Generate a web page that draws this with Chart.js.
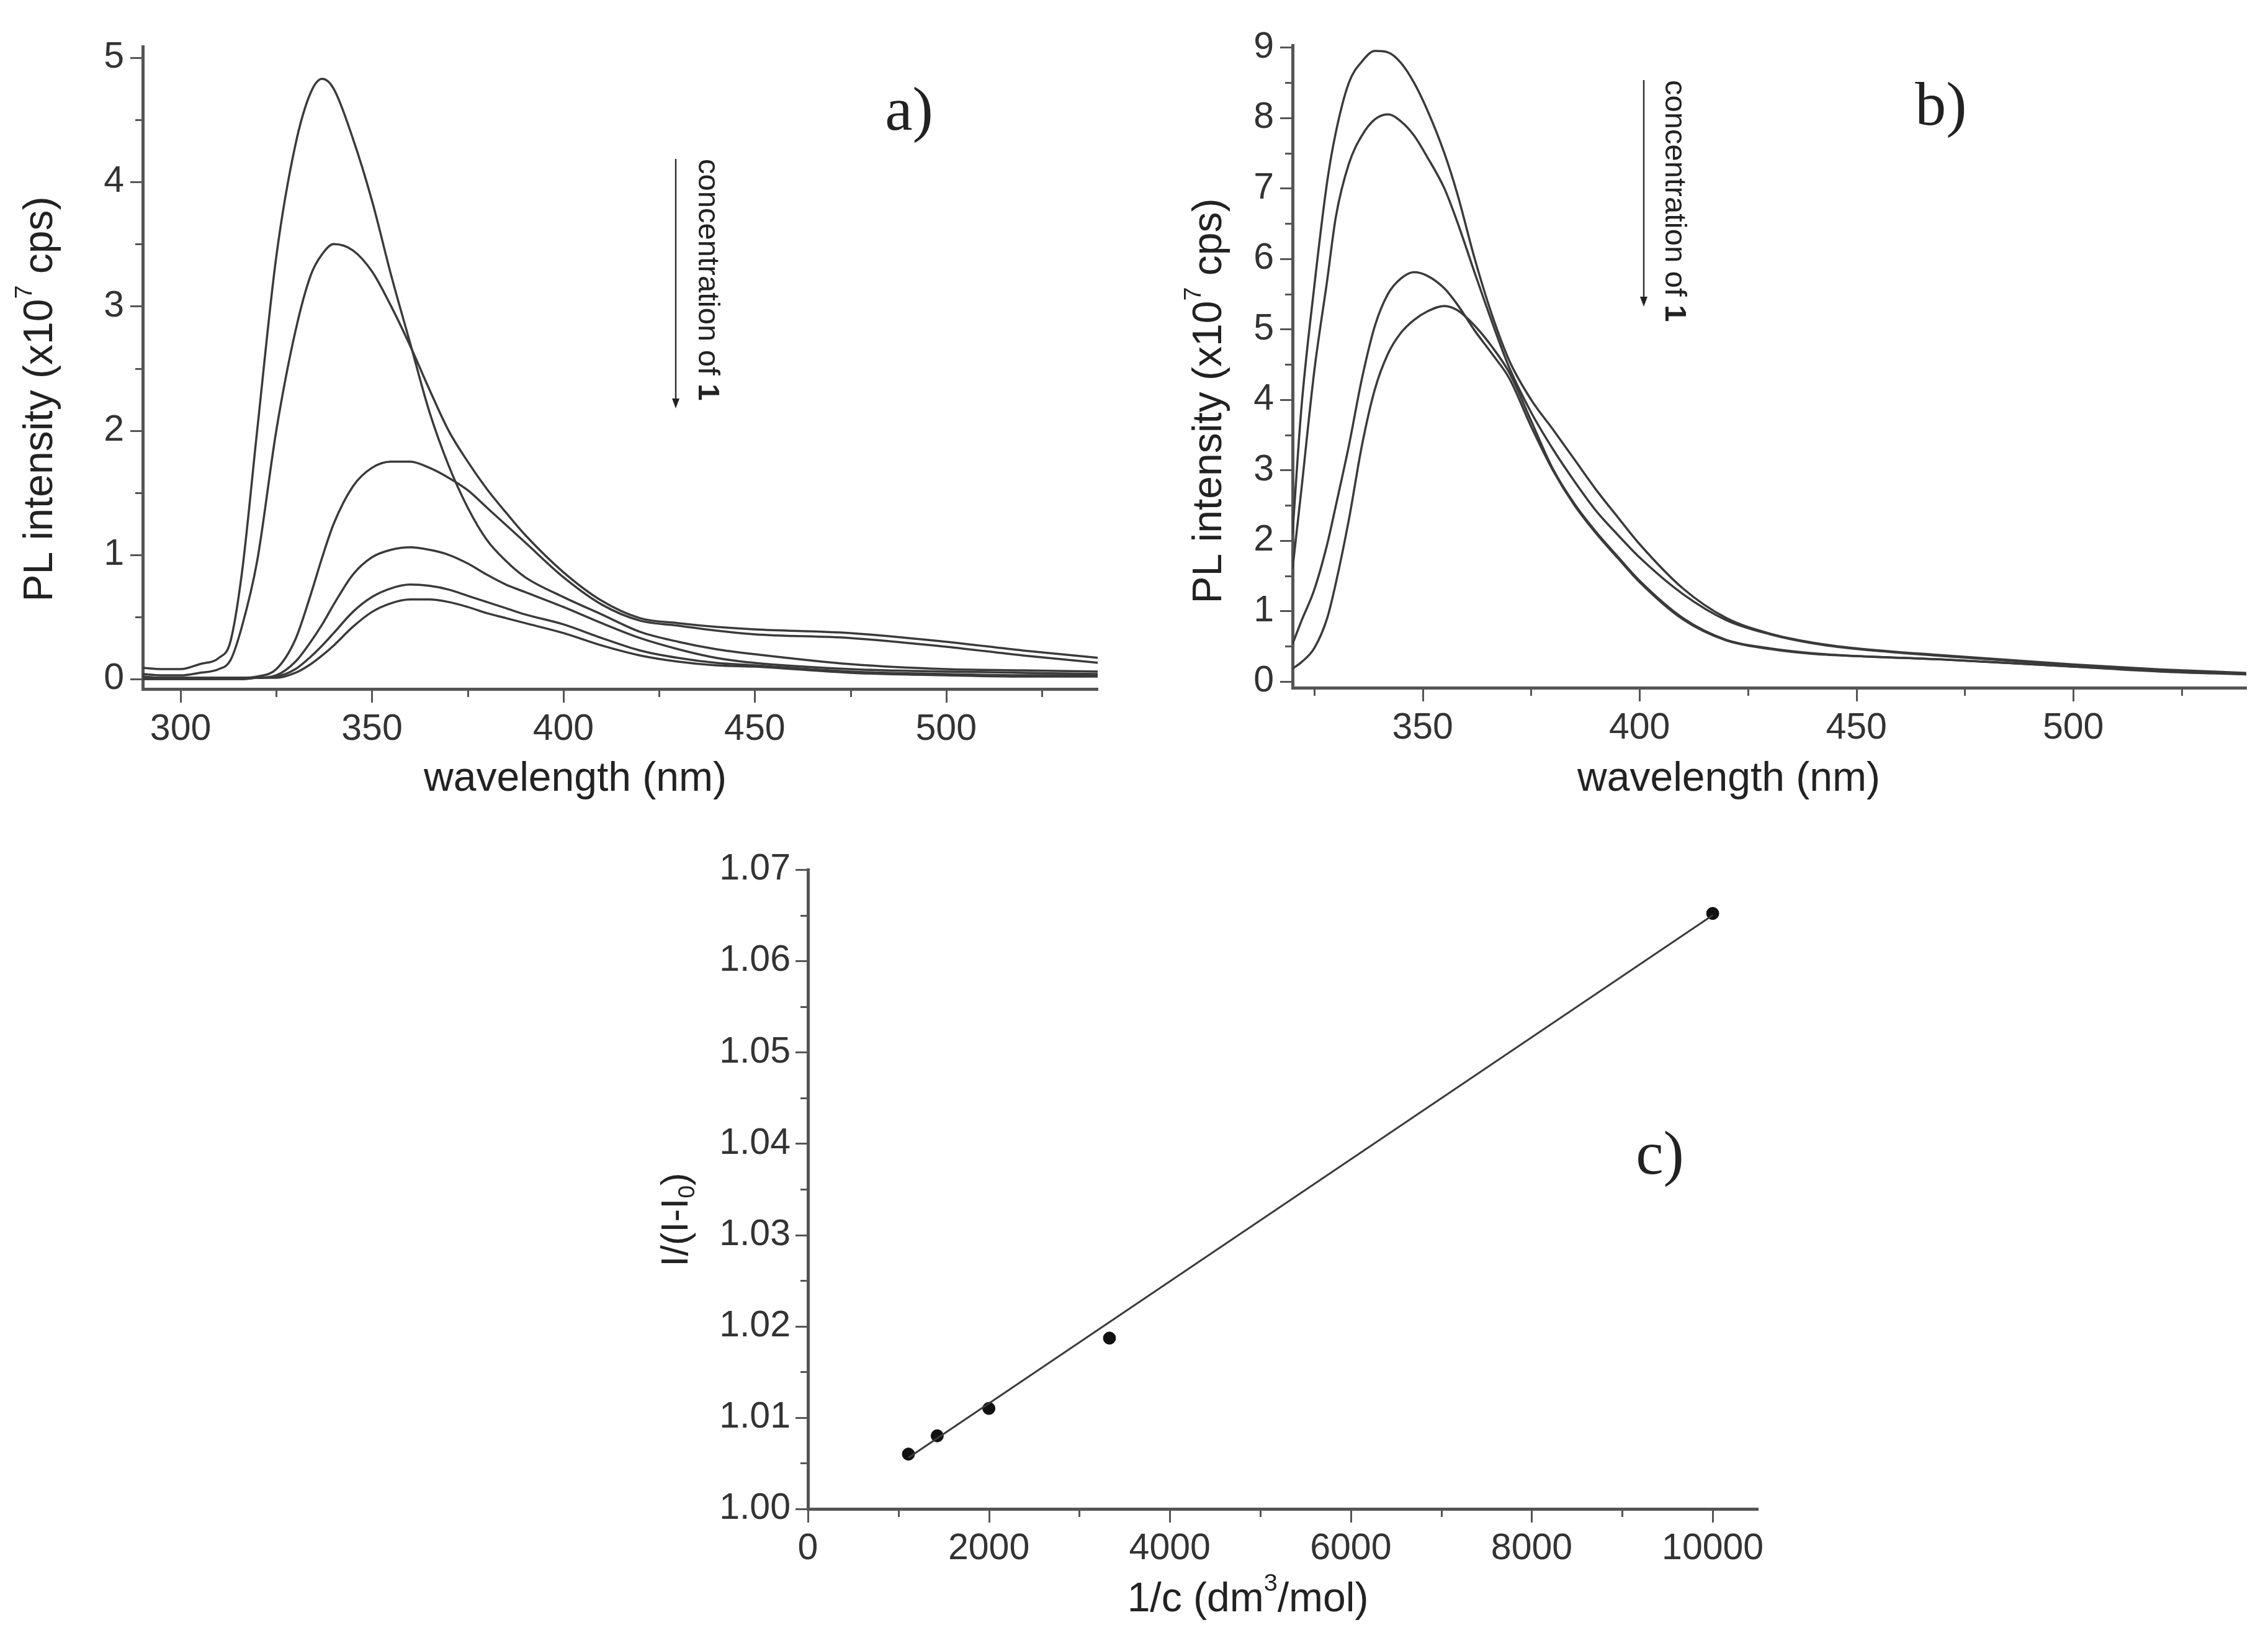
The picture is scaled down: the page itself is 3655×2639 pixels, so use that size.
<!DOCTYPE html>
<html>
<head>
<meta charset="utf-8">
<title>PL quenching</title>
<script src="https://cdn.jsdelivr.net/npm/chart.js@4.4.1/dist/chart.umd.min.js"></script>
<style>
  html, body { margin: 0; padding: 0; background: #fff; }
  body { width: 3655px; height: 2639px; position: relative; overflow: hidden; }
  canvas { position: absolute; }
</style>
</head>
<body>
<canvas id="panelA" width="1830" height="1300" style="left:0;top:0"></canvas>
<canvas id="panelB" width="1825" height="1300" style="left:1830px;top:0"></canvas>
<canvas id="panelC" width="1900" height="1339" style="left:1000px;top:1300px"></canvas>
<script>
// panel a) spectra, six concentrations
const wavelengthA = [290, 295, 300, 305, 310, 313, 316, 320, 325, 330, 334, 337, 340, 345, 350, 355, 360, 365, 370, 375, 380, 385, 390, 400, 410, 420, 430, 440, 450, 475, 500, 520, 540];
const specA1 = [0.09, 0.08, 0.08, 0.12, 0.17, 0.3, 0.85, 2.0, 3.4, 4.3, 4.72, 4.83, 4.75, 4.35, 3.85, 3.25, 2.7, 2.15, 1.72, 1.38, 1.12, 0.95, 0.82, 0.66, 0.52, 0.38, 0.3, 0.24, 0.2, 0.12, 0.08, 0.07, 0.06];
const specA2 = [0.04, 0.03, 0.03, 0.05, 0.08, 0.15, 0.42, 0.95, 2.0, 2.8, 3.25, 3.42, 3.5, 3.45, 3.28, 3.0, 2.68, 2.33, 2.0, 1.75, 1.53, 1.34, 1.16, 0.86, 0.63, 0.49, 0.45, 0.42, 0.4, 0.37, 0.3, 0.23, 0.17];
const specA3 = [0.02, 0.01, 0.01, 0.01, 0.01, 0.01, 0.01, 0.02, 0.08, 0.32, 0.68, 0.98, 1.25, 1.55, 1.7, 1.75, 1.75, 1.7, 1.62, 1.52, 1.38, 1.24, 1.1, 0.82, 0.6, 0.47, 0.43, 0.39, 0.36, 0.33, 0.26, 0.19, 0.13];
const specA4 = [0.01, 0.01, 0.01, 0.01, 0.01, 0.01, 0.01, 0.01, 0.03, 0.14, 0.3, 0.44, 0.6, 0.84, 0.98, 1.04, 1.06, 1.04, 1.0, 0.93, 0.84, 0.76, 0.7, 0.58, 0.45, 0.33, 0.24, 0.17, 0.13, 0.08, 0.06, 0.05, 0.04];
const specA5 = [0.0, 0.0, 0.0, 0.0, 0.0, 0.0, 0.0, 0.01, 0.02, 0.08, 0.18, 0.27, 0.37, 0.54, 0.66, 0.73, 0.76, 0.75, 0.72, 0.67, 0.62, 0.57, 0.52, 0.44, 0.33, 0.23, 0.17, 0.13, 0.11, 0.06, 0.04, 0.03, 0.03];
const specA6 = [0.0, 0.0, 0.0, 0.0, 0.0, 0.0, 0.0, 0.01, 0.01, 0.05, 0.12, 0.19, 0.27, 0.42, 0.54, 0.61, 0.64, 0.64, 0.62, 0.58, 0.53, 0.49, 0.45, 0.37, 0.27, 0.19, 0.14, 0.11, 0.1, 0.05, 0.03, 0.02, 0.02];
const xTicksA = [300, 325, 350, 375, 400, 425, 450, 475, 500, 525];
const yTicksA = [0, 0.5, 1, 1.5, 2, 2.5, 3, 3.5, 4, 4.5, 5];

// panel b) spectra, four concentrations
const wavelengthB = [320, 322, 325, 328, 330, 333, 336, 339, 342, 345, 348, 351, 355, 358, 362, 366, 370, 375, 380, 385, 390, 395, 400, 410, 420, 430, 440, 450, 470, 500, 520, 540];
const specB1 = [2.1, 3.85, 5.6, 7.1, 7.8, 8.5, 8.8, 8.95, 8.93, 8.78, 8.5, 8.12, 7.5, 6.92, 6.0, 5.2, 4.55, 4.0, 3.58, 3.15, 2.72, 2.33, 1.95, 1.32, 0.9, 0.68, 0.55, 0.47, 0.37, 0.24, 0.17, 0.12];
const specB2 = [1.6, 2.7, 4.4, 5.7, 6.6, 7.35, 7.75, 7.98, 8.05, 7.95, 7.75, 7.45, 7.0, 6.52, 5.8, 5.1, 4.45, 3.82, 3.3, 2.84, 2.42, 2.08, 1.76, 1.24, 0.87, 0.67, 0.54, 0.46, 0.36, 0.23, 0.16, 0.11];
const specB3 = [0.53, 0.85, 1.3, 1.95, 2.5, 3.35, 4.3, 5.05, 5.5, 5.72, 5.81, 5.76, 5.58, 5.35, 4.98, 4.65, 4.3, 3.62, 3.0, 2.5, 2.1, 1.75, 1.41, 0.88, 0.58, 0.46, 0.39, 0.36, 0.31, 0.21, 0.15, 0.1];
const specB4 = [0.18, 0.27, 0.47, 0.9, 1.4, 2.3, 3.35, 4.15, 4.65, 4.95, 5.13, 5.25, 5.33, 5.27, 5.05, 4.75, 4.38, 3.7, 3.02, 2.52, 2.12, 1.77, 1.43, 0.9, 0.59, 0.47, 0.4, 0.36, 0.31, 0.21, 0.14, 0.1];
const xTicksB = [325, 350, 375, 400, 425, 450, 475, 500, 525];
const yTicksB = [0, 0.5, 1, 1.5, 2, 2.5, 3, 3.5, 4, 4.5, 5, 5.5, 6, 6.5, 7, 7.5, 8, 8.5, 9];

// panel c) I/(I-I0) against 1/c
const inverseConc = [1111, 1429, 2000, 3333, 10000];
const intensityRatio = [1.006, 1.008, 1.011, 1.0187, 1.0652];
const fitX = [1111, 10000];
const fitY = [1.0056, 1.0650];
const xTicksC = [0, 1000, 2000, 3000, 4000, 5000, 6000, 7000, 8000, 9000, 10000];
const yTicksC = [1.0, 1.005, 1.01, 1.015, 1.02, 1.025, 1.03, 1.035, 1.04, 1.045, 1.05, 1.055, 1.06, 1.065, 1.07];

const LINE = '#3a3a3a';
const AXIS = '#555';
const SANS = '"Liberation Sans", Arial, sans-serif';
const SERIF = '"Liberation Serif", "Times New Roman", serif';

// per-panel extra drawing (titles, notes); kept out of chart options
const panelExtras = {};

function pairs(xs, ys) {
  return xs.map((x, i) => ({ x: x, y: ys[i] }));
}

function curve(xs, ys) {
  return {
    data: pairs(xs, ys),
    borderColor: LINE,
    borderWidth: 3.5,
    pointRadius: 0,
    cubicInterpolationMode: 'monotone',
    fill: false
  };
}

function isMajor(v, major) {
  const r = v / major;
  return Math.abs(r - Math.round(r)) < 1e-6;
}

// text with super/subscript parts, centred on (cx, cy)
function richText(ctx, parts, cx, cy, size, rot) {
  const fontOf = (p) => {
    const s = (p.sup || p.sub) ? size * 0.6 : size;
    return (p.bold ? 'bold ' : '') + s + 'px ' + (p.serif ? SERIF : SANS);
  };
  ctx.save();
  ctx.translate(cx, cy);
  ctx.rotate(rot || 0);
  ctx.fillStyle = '#222';
  ctx.textBaseline = 'middle';
  ctx.textAlign = 'left';
  let total = 0;
  const widths = parts.map(p => {
    ctx.font = fontOf(p);
    const w = ctx.measureText(p.t).width;
    total += w;
    return w;
  });
  let x = -total / 2;
  parts.forEach((p, i) => {
    ctx.font = fontOf(p);
    let dy = 0;
    if (p.sup) dy = -size * 0.4;
    if (p.sub) dy = size * 0.28;
    ctx.fillText(p.t, x, dy);
    x += widths[i];
  });
  ctx.restore();
}

function drawArrowNote(ctx, ax, y1, y2, tx) {
  ctx.save();
  ctx.strokeStyle = '#333';
  ctx.fillStyle = '#222';
  ctx.lineWidth = 2.5;
  ctx.beginPath();
  ctx.moveTo(ax, y1);
  ctx.lineTo(ax, y2 - 14);
  ctx.stroke();
  ctx.beginPath();
  ctx.moveTo(ax - 6, y2 - 16);
  ctx.lineTo(ax + 6, y2 - 16);
  ctx.lineTo(ax, y2);
  ctx.closePath();
  ctx.fill();
  // rotated caption, reading downwards
  ctx.translate(tx, y1);
  ctx.rotate(Math.PI / 2);
  ctx.textBaseline = 'middle';
  ctx.textAlign = 'left';
  ctx.font = '49px ' + SANS;
  ctx.fillText('concentration of ', 0, 0);
  const w = ctx.measureText('concentration of ').width;
  ctx.font = 'bold 49px ' + SANS;
  ctx.fillText('1', w, 0);
  ctx.restore();
}

// outward major/minor tick marks on the left and bottom axes
const tickMarks = {
  id: 'tickMarks',
  afterDraw(chart) {
    const ctx = chart.ctx;
    const area = chart.chartArea;
    ctx.save();
    ctx.strokeStyle = AXIS;
    ctx.lineWidth = 3;
    chart.scales.x.ticks.forEach(t => {
      const px = Math.round(chart.scales.x.getPixelForValue(t.value)) + 0.5;
      const len = t.label !== '' ? 22 : 13;
      ctx.beginPath();
      ctx.moveTo(px, area.bottom);
      ctx.lineTo(px, area.bottom + len);
      ctx.stroke();
    });
    chart.scales.y.ticks.forEach(t => {
      const py = Math.round(chart.scales.y.getPixelForValue(t.value)) + 0.5;
      const len = t.label !== '' ? 20 : 12;
      ctx.beginPath();
      ctx.moveTo(area.left, py);
      ctx.lineTo(area.left - len, py);
      ctx.stroke();
    });
    ctx.restore();
    const extra = panelExtras[chart.canvas.id];
    if (extra) extra(ctx, chart);
  }
};

function axis(min, max, tickValues, major, fmt, size, pad) {
  return {
    type: 'linear',
    min: min,
    max: max,
    afterBuildTicks: (s) => {
      s.ticks = tickValues.map(v => ({ value: v }));
    },
    afterFit: (s) => {
      if (s.isHorizontal()) s.height = size; else s.width = size;
    },
    border: { display: true, color: AXIS, width: 5 },
    grid: { display: false, drawTicks: false },
    ticks: {
      autoSkip: false,
      maxRotation: 0,
      padding: pad,
      color: '#333',
      font: { family: SANS, size: 59 },
      callback: (v) => isMajor(v, major) ? fmt(v) : ''
    }
  };
}

function makeChart(id, datasets, xAxis, yAxis, padding, extra) {
  panelExtras[id] = extra;
  return new Chart(document.getElementById(id), {
    type: 'line',
    data: { datasets: datasets },
    options: {
      responsive: false,
      animation: false,
      devicePixelRatio: 1,
      layout: { padding: padding },
      scales: { x: xAxis, y: yAxis },
      plugins: {
        legend: { display: false },
        tooltip: { enabled: false }
      }
    },
    plugins: [tickMarks]
  });
}

const plainInt = (v) => String(Math.round(v));

makeChart('panelA',
  [specA1, specA2, specA3, specA4, specA5, specA6].map(s => curve(wavelengthA, s)),
  axis(290.1, 539.6, xTicksA, 50, plainInt, 190, 30),
  axis(-0.08, 5.09, yTicksA, 1, plainInt, 230, 30),
  { left: 0, top: 75, right: 61, bottom: 0 },
  (ctx) => {
    richText(ctx, [{ t: 'wavelength (nm)' }], 927, 1256, 66, 0);
    richText(ctx, [{ t: 'PL intensity (x10' }, { t: '7', sup: true }, { t: ' cps)' }], 66, 643, 66, -Math.PI / 2);
    richText(ctx, [{ t: 'a)', serif: true }], 1465, 183, 100, 0);
    drawArrowNote(ctx, 1089, 256, 658, 1140);
  });

makeChart('panelB',
  [specB1, specB2, specB3, specB4].map(s => curve(wavelengthB, s)),
  axis(320, 539.9, xTicksB, 50, plainInt, 192, 30),
  axis(-0.09, 9.03, yTicksB, 1, plainInt, 253, 30),
  { left: 0, top: 73, right: 35, bottom: 0 },
  (ctx) => {
    richText(ctx, [{ t: 'wavelength (nm)' }], 956, 1256, 66, 0);
    richText(ctx, [{ t: 'PL intensity (x10' }, { t: '7', sup: true }, { t: ' cps)' }], 120, 646, 66, -Math.PI / 2);
    richText(ctx, [{ t: 'b)', serif: true }], 1298, 175, 100, 0);
    drawArrowNote(ctx, 819, 129, 494, 868);
  });

makeChart('panelC',
  [
    {
      data: pairs(fitX, fitY),
      borderColor: LINE,
      borderWidth: 3,
      pointRadius: 0,
      fill: false
    },
    {
      data: pairs(inverseConc, intensityRatio),
      showLine: false,
      pointRadius: 10,
      pointBackgroundColor: '#111',
      pointBorderColor: '#111',
      pointBorderWidth: 1
    }
  ],
  axis(0, 10500, xTicksC, 2000, plainInt, 208, 29),
  axis(1.0, 1.07, yTicksC, 0.01, (v) => v.toFixed(2), 302, 28),
  { left: 0, top: 101, right: 67, bottom: 0 },
  (ctx) => {
    richText(ctx, [{ t: '1/c (dm' }, { t: '3', sup: true }, { t: '/mol)' }], 1011, 1278, 66, 0);
    richText(ctx, [{ t: 'I/(I-I' }, { t: '0', sub: true }, { t: ')' }], 91, 665, 62, -Math.PI / 2);
    richText(ctx, [{ t: 'c)', serif: true }], 1675, 565, 100, 0);
  });
</script>
</body>
</html>
